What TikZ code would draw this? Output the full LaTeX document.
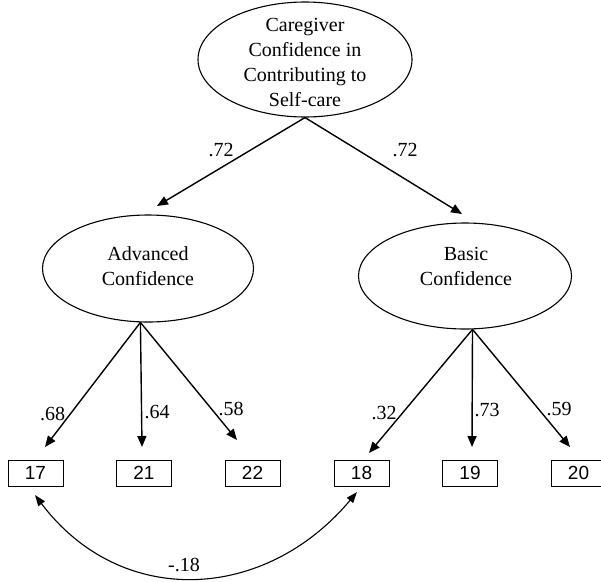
\documentclass[tikz,border=0pt]{standalone}
\usepackage{fontspec}
\setmainfont{Liberation Serif}
\newfontfamily\boxfont{Liberation Sans}
\usetikzlibrary{arrows.meta,shapes.geometric}
\begin{document}
\begin{tikzpicture}[x=1pt,y=-1pt,
  latent/.style={draw,ellipse,line width=1.1pt,inner sep=0pt},
  ltext/.style={align=center,font=\fontsize{20}{25}\selectfont,inner sep=0pt},
  obs/.style={draw,line width=0.9pt,minimum width=55pt,minimum height=26pt,inner sep=0pt,font=\boxfont\fontsize{19}{19}\selectfont},
  loading/.style={line width=1.4pt,-{Triangle[length=11pt,width=9pt]}},
  corr/.style={line width=1.1pt,{Triangle[length=11pt,width=8pt]}-{Triangle[length=11pt,width=8pt]}},
  coef/.style={font=\fontsize{20}{20}\selectfont,inner sep=0pt}]
\useasboundingbox (0,0) rectangle (601,581);
% latent variables
\node[latent,minimum width=214pt,minimum height=115pt] (top) at (305,59.5) {};
\node[ltext] (topT) at (305,62) {Caregiver\\Confidence in\\Contributing to\\Self-care};
\node[latent,minimum width=211pt,minimum height=107pt] (adv) at (148,268.5) {};
\node[ltext] (advT) at (148,266) {Advanced\\Confidence};
\node[latent,minimum width=213pt,minimum height=106pt] (bas) at (465,276) {};
\node[ltext] (basT) at (466,266.5) {Basic\\Confidence};
% observed variables
\node[obs] (b17) at (35.5,473) {17};
\node[obs] (b21) at (144,473) {21};
\node[obs] (b22) at (252.5,473) {22};
\node[obs] (b18) at (361.5,473) {18};
\node[obs] (b19) at (470,473) {19};
\node[obs] (b20) at (578.5,473) {20};
% arrow tip points
\coordinate (tA) at (157,206);
\coordinate (tB) at (462,214);
\coordinate (t17) at (45,447);
\coordinate (t21) at (142,447);
\coordinate (t22) at (237,440);
\coordinate (t18) at (369,453);
\coordinate (t19) at (472,447);
\coordinate (t20) at (570,447);
\coordinate (c17) at (35,495);
\coordinate (c18) at (357,492);
% loadings
\draw[loading] (top.south) -- (tA);
\draw[loading] (top.south) -- (tB);
\draw[loading] (adv.-98.5) -- (t17);
\draw[loading] (adv.-98.5) -- (t21);
\draw[loading] (adv.-98.5) -- (t22);
\draw[loading] (bas.-82.5) -- (t18);
\draw[loading] (bas.-82.5) -- (t19);
\draw[loading] (bas.-82.5) -- (t20);
% correlation
\draw[corr] (c17) .. controls (121,609) and (265,602) .. (c18);
% coefficients
\node[coef] (k1) at (221,150) {.72};
\node[coef] (k2) at (405,150) {.72};
\node[coef] (k3) at (52.5,414) {.68};
\node[coef] (k4) at (157,412) {.64};
\node[coef] (k5) at (231,409) {.58};
\node[coef] (k6) at (384,413) {.32};
\node[coef] (k7) at (487,410) {.73};
\node[coef] (k8) at (559,409) {.59};
\node[coef] (k9) at (184,565) {-.18};
\end{tikzpicture}
\end{document}
